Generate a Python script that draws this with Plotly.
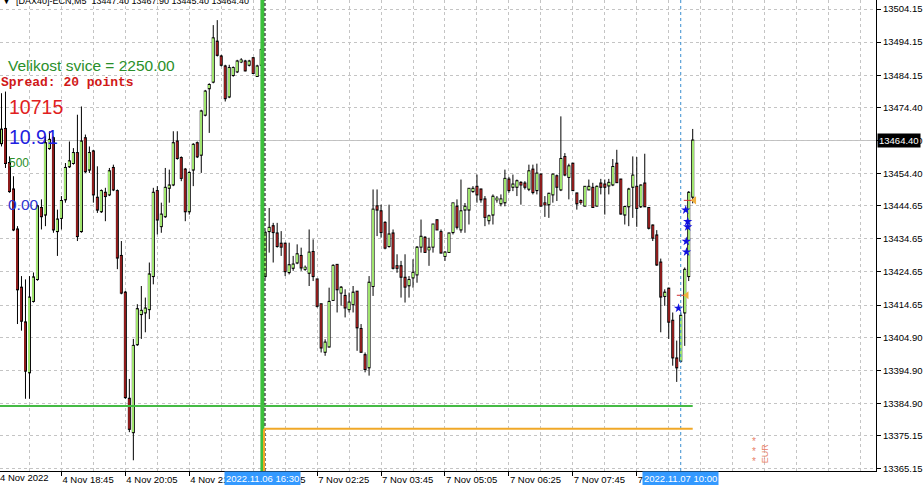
import plotly.graph_objects as go

# ---------------- data ----------------
opens = [13463.6, 13467.9, 13457.6, 13449.6, 13437.5, 13419.9, 13409.4, 13394.3, 13415.9, 13422.5,
         13444.0, 13442.0, 13462.1, 13465.1, 13437.0, 13441.0, 13446.6, 13456.6, 13457.6, 13460.6,
         13437.0, 13465.1, 13455.6, 13461.1, 13447.1, 13443.0, 13448.6, 13448.1, 13456.1, 13449.1,
         13429.5, 13418.4, 13386.3, 13376.2, 13402.8, 13411.9, 13412.4, 13413.4, 13423.4, 13449.1,
         13438.5, 13441.5, 13450.1, 13451.1, 13464.1, 13459.1, 13455.6, 13443.0, 13455.6, 13463.6,
         13460.1, 13472.2, 13480.2, 13482.2, 13494.3, 13489.8, 13486.8, 13477.7, 13484.2, 13485.3,
         13488.3, 13488.3, 13487.3, 13489.3, 13483.9, 13487.3,
         13423.4, 13437.0, 13438.5, 13436.3, 13433.2, 13433.2, 13424.6, 13425.9, 13427.5, 13429.5,
         13425.6, 13424.4, 13430.7, 13422.4, 13414.9, 13400.5, 13402.1, 13416.2, 13426.8, 13418.4,
         13417.4, 13413.4, 13414.9, 13418.7, 13407.4, 13399.5, 13395.8, 13420.4, 13444.5, 13443.0,
         13439.5, 13432.5, 13436.3, 13426.4, 13426.4, 13422.9, 13420.6, 13423.0, 13423.9, 13432.3,
         13435.0, 13431.5, 13432.3, 13440.3, 13436.7, 13429.5, 13430.7, 13436.7, 13444.4, 13437.5,
         13443.5, 13443.5, 13449.1, 13450.4, 13449.6, 13446.6, 13440.3, 13442.0, 13446.6, 13445.4,
         13445.7, 13452.6, 13450.4, 13450.4, 13451.6, 13451.4, 13449.8, 13455.6, 13449.4, 13454.1,
         13445.4, 13445.1, 13448.1, 13453.6, 13449.6, 13459.4, 13453.4, 13457.4, 13448.4, 13446.1,
         13444.7, 13449.6, 13450.1, 13444.7, 13451.4, 13451.1, 13450.8, 13451.1, 13457.4, 13452.6,
         13442.0, 13444.5, 13450.4, 13450.4, 13444.5, 13451.4, 13444.0, 13438.7, 13435.7, 13427.5,
         13417.4, 13419.6, 13409.9, 13398.5, 13397.8, 13412.4, 13423.4, 13447.40]
highs = [13478.7, 13479.2, 13459.6, 13453.6, 13438.5, 13423.4, 13422.4, 13423.4, 13424.5, 13445.0,
         13446.6, 13465.6, 13467.2, 13465.6, 13443.5, 13447.6, 13457.6, 13464.1, 13462.1, 13472.2,
         13474.7, 13466.2, 13462.6, 13461.6, 13456.6, 13449.6, 13450.1, 13456.1, 13457.1, 13449.6,
         13434.0, 13418.9, 13392.3, 13404.4, 13414.9, 13420.4, 13416.9, 13427.5, 13450.1, 13450.6,
         13445.6, 13456.1, 13455.6, 13467.2, 13467.2, 13459.6, 13456.1, 13455.1, 13463.6, 13464.1,
         13473.7, 13479.7, 13481.7, 13499.3, 13500.8, 13490.3, 13487.3, 13487.3, 13486.8, 13488.8,
         13489.3, 13488.8, 13488.8, 13489.6, 13487.3, 13491.9,
         13437.0, 13444.0, 13439.5, 13439.5, 13437.0, 13433.5, 13433.5, 13429.5, 13433.0, 13432.0,
         13426.6, 13437.5, 13434.5, 13422.4, 13414.9, 13404.3, 13419.9, 13427.0, 13427.0, 13420.4,
         13419.4, 13418.4, 13420.4, 13418.7, 13408.9, 13400.3, 13423.4, 13449.6, 13449.6, 13445.0,
         13440.0, 13445.0, 13437.5, 13430.0, 13428.0, 13430.0, 13423.4, 13428.5, 13432.5, 13440.5,
         13435.5, 13435.0, 13439.0, 13440.5, 13437.5, 13431.0, 13436.5, 13445.4, 13446.6, 13452.6,
         13445.5, 13449.8, 13450.6, 13454.1, 13449.8, 13447.6, 13442.0, 13448.1, 13447.6, 13448.1,
         13455.6, 13453.4, 13454.1, 13452.6, 13452.1, 13452.1, 13457.1, 13457.1, 13457.4, 13454.4,
         13447.6, 13448.6, 13454.4, 13454.1, 13471.7, 13460.6, 13457.4, 13457.6, 13448.6, 13446.6,
         13450.6, 13452.6, 13451.6, 13450.8, 13452.8, 13452.6, 13452.8, 13458.8, 13461.6, 13452.8,
         13444.5, 13450.1, 13459.6, 13459.4, 13451.1, 13460.4, 13444.3, 13439.0, 13437.3, 13428.7,
         13419.4, 13419.9, 13412.4, 13403.9, 13412.4, 13426.0, 13449.1, 13467.90]
lows = [13462.6, 13456.1, 13448.6, 13437.0, 13408.9, 13406.9, 13386.3, 13386.3, 13415.4, 13422.0,
        13437.5, 13438.5, 13461.6, 13436.5, 13429.5, 13437.5, 13445.6, 13456.1, 13457.1, 13434.0,
        13436.5, 13454.6, 13454.6, 13445.6, 13442.5, 13442.5, 13440.0, 13447.6, 13449.1, 13425.5,
        13417.9, 13386.3, 13376.2, 13367.7, 13402.3, 13404.4, 13406.4, 13410.4, 13420.9, 13436.0,
        13436.5, 13441.0, 13445.6, 13450.6, 13458.6, 13452.1, 13440.0, 13442.0, 13450.6, 13459.1,
        13454.6, 13471.7, 13466.7, 13481.7, 13489.8, 13486.8, 13476.2, 13477.2, 13483.7, 13484.8,
        13487.8, 13485.3, 13486.8, 13484.6, 13483.7, 13486.9,
        13422.9, 13430.5, 13427.5, 13432.0, 13429.5, 13423.4, 13423.9, 13425.0, 13427.0, 13425.0,
        13425.0, 13420.4, 13421.9, 13413.9, 13400.3, 13399.3, 13401.8, 13415.9, 13412.4, 13414.4,
        13410.9, 13412.4, 13412.4, 13400.8, 13400.3, 13394.3, 13393.3, 13417.4, 13435.5, 13435.0,
        13431.5, 13432.0, 13425.4, 13424.4, 13416.9, 13415.4, 13416.9, 13419.9, 13421.4, 13430.5,
        13430.5, 13426.5, 13430.5, 13437.5, 13430.3, 13428.0, 13430.5, 13436.0, 13437.5, 13436.5,
        13436.5, 13439.0, 13448.6, 13445.6, 13445.6, 13438.5, 13439.0, 13439.0, 13445.6, 13444.5,
        13444.5, 13448.6, 13449.1, 13447.6, 13445.0, 13449.6, 13449.1, 13448.1, 13448.1, 13444.5,
        13441.3, 13441.0, 13445.6, 13446.1, 13449.1, 13453.6, 13446.6, 13449.1, 13443.5, 13445.0,
        13444.5, 13449.4, 13444.0, 13444.5, 13448.1, 13442.0, 13448.1, 13450.6, 13451.6, 13442.0,
        13439.0, 13438.5, 13441.0, 13438.3, 13444.0, 13444.3, 13437.5, 13434.0, 13426.5, 13406.4,
        13414.4, 13404.4, 13396.3, 13391.4, 13397.3, 13402.3, 13421.9, 13445.40]
closes = [13467.7, 13457.6, 13449.1, 13437.5, 13419.4, 13409.9, 13394.8, 13416.9, 13423.0, 13444.5,
          13441.5, 13463.6, 13464.6, 13437.5, 13440.5, 13446.1, 13456.1, 13458.1, 13460.6, 13435.5,
          13464.1, 13455.1, 13460.6, 13448.1, 13443.5, 13449.1, 13447.6, 13455.1, 13449.6, 13429.0,
          13418.4, 13386.8, 13377.2, 13402.3, 13413.4, 13412.9, 13413.6, 13423.9, 13448.6, 13440.5,
          13442.0, 13450.1, 13450.8, 13463.6, 13459.1, 13453.1, 13443.0, 13454.6, 13463.1, 13459.6,
          13473.2, 13479.2, 13481.2, 13495.3, 13490.3, 13487.3, 13477.2, 13486.3, 13486.3, 13488.3,
          13488.6, 13485.6, 13488.3, 13484.8, 13486.8, 13491.8,
          13436.5, 13438.0, 13436.7, 13432.5, 13432.3, 13424.9, 13426.7, 13426.9, 13430.0, 13426.0,
          13425.9, 13430.5, 13423.4, 13414.4, 13401.8, 13403.3, 13415.6, 13426.5, 13419.4, 13419.9,
          13413.9, 13415.4, 13418.4, 13407.9, 13400.5, 13395.3, 13421.4, 13443.5, 13443.5, 13436.7,
          13432.0, 13436.0, 13425.9, 13425.9, 13423.2, 13420.2, 13422.2, 13424.4, 13432.0, 13435.3,
          13430.7, 13432.0, 13439.0, 13437.5, 13430.5, 13430.5, 13436.3, 13445.4, 13438.3, 13443.0,
          13444.4, 13449.8, 13449.8, 13448.1, 13446.6, 13441.3, 13441.5, 13447.4, 13446.8, 13446.6,
          13452.8, 13449.4, 13451.1, 13452.1, 13451.1, 13450.4, 13455.1, 13448.8, 13454.4, 13444.7,
          13445.1, 13448.3, 13454.1, 13450.4, 13458.8, 13454.1, 13456.6, 13449.4, 13445.4, 13445.8,
          13450.4, 13450.4, 13444.3, 13450.4, 13450.4, 13450.4, 13451.6, 13456.4, 13451.8, 13442.3,
          13444.3, 13449.6, 13453.8, 13444.0, 13450.8, 13444.5, 13438.0, 13435.0, 13426.9, 13417.2,
          13418.4, 13409.6, 13398.8, 13395.8, 13411.4, 13425.3, 13448.6, 13464.40]
bar_index = list(range(len(opens)))

x_tick_idx = [15, 31, 47, 63, 79, 95, 111, 127, 143, 159]
x_tick_text = ["4 Nov 18:45", "4 Nov 20:05", "4 Nov 21:25", "4 Nov 22:45", "7 Nov 02:25",
               "7 Nov 03:45", "7 Nov 05:05", "7 Nov 06:25", "7 Nov 07:45", "7 Nov 09:05"]
first_date_label = "4 Nov 2022"

y_tick_vals = [13504.15, 13494.15, 13484.15, 13474.40, 13464.40, 13454.40, 13444.65, 13434.65,
               13424.65, 13414.65, 13404.90, 13394.90, 13384.90, 13375.15, 13365.15]
y_tick_text = [f"{v:.2f}" for v in y_tick_vals]

current_price = 13464.40
green_level = 13384.15
orange_level = 13377.20
separator_idx = 65.3          # 2022.11.06 16:30 line
separator_label = "2022.11.06 16:30"
event_idx = 170               # 2022.11.07 10:00 line
event_label = "2022.11.07 10:00"
level_end_idx = 173

star_idx = [169.45, 171.25, 171.75, 171.75, 171.4, 171.45]
star_price = [13413.7, 13443.4, 13439.9, 13438.3, 13433.9, 13430.7]
order_idx = [171.5, 173.4]
order_price = [13417.6, 13446.3]
dash_idx = [170.25, 172.0]

# ---------------- figure ----------------
PLOT_W, PLOT_H = 877, 473
X_RANGE = [-0.375, 218.875]
Y_RANGE = [13364.46, 13506.89]
GRID = "#c4c4c4"
UP_FILL, DOWN_FILL = "#a0e46e", "#8c1c1c"
OUTER_W, INNER_W = 0.75, 0.25   # 3 px black body, 1 px coloured core
EDGE = 0.3                      # ~1 px black border above/below the coloured core

fig = go.Figure()

# wicks (only outside the body)
wick_x, wick_y = [], []
for i, o, h, l, c in zip(bar_index, opens, highs, lows, closes):
    lo, hi = min(o, c), max(o, c)
    if l < lo:
        wick_x += [i, i, None]
        wick_y += [l, lo, None]
    if h > hi:
        wick_x += [i, i, None]
        wick_y += [hi, h, None]
fig.add_trace(go.Scatter(x=wick_x, y=wick_y, mode="lines", line=dict(color="black", width=1),
                         hoverinfo="skip", showlegend=False))

# black body outline (drawn as a slightly larger black bar)
out_base = [min(o, c) - EDGE for o, c in zip(opens, closes)]
out_h = [abs(c - o) + 2 * EDGE for o, c in zip(opens, closes)]
fig.add_trace(go.Bar(x=bar_index, y=out_h, base=out_base, width=OUTER_W,
                     marker=dict(color="black", line=dict(width=0)),
                     hoverinfo="skip", showlegend=False))

# coloured body core
for want_up, fill in ((True, UP_FILL), (False, DOWN_FILL)):
    xs, bases, heights = [], [], []
    for i, o, c in zip(bar_index, opens, closes):
        if (c >= o) == want_up and c != o:
            xs.append(i)
            bases.append(min(o, c))
            heights.append(abs(c - o))
    fig.add_trace(go.Bar(x=xs, y=heights, base=bases, width=INNER_W,
                         marker=dict(color=fill, line=dict(width=0)),
                         hoverinfo="skip", showlegend=False))

fig.add_trace(go.Scatter(x=star_idx, y=star_price, mode="markers", hoverinfo="skip",
                         marker=dict(symbol="star", size=7, color="#1010e0", line=dict(width=0)),
                         showlegend=False))
fig.add_trace(go.Scatter(x=dash_idx, y=order_price, mode="markers", hoverinfo="skip",
                         marker=dict(symbol="line-ew", size=7, line=dict(color="#d03030", width=1)),
                         showlegend=False))
fig.add_trace(go.Scatter(x=order_idx, y=order_price, mode="markers", hoverinfo="skip",
                         marker=dict(symbol="triangle-left", size=7, color="#f0b040"),
                         showlegend=False))

shapes = [
    dict(type="line", xref="paper", x0=0, x1=1, yref="y", y0=current_price, y1=current_price,
         line=dict(color="#c0c0c0", width=1), layer="below"),
    dict(type="line", xref="x", x0=separator_idx, x1=separator_idx, yref="paper", y0=0, y1=1,
         line=dict(color="#3cc03c", width=4), layer="above"),
    dict(type="line", xref="x", x0=separator_idx + 0.65, x1=separator_idx + 0.65, yref="paper", y0=0, y1=1,
         line=dict(color="black", width=1, dash="3px,2px"), layer="above"),
    dict(type="line", xref="x", x0=event_idx, x1=event_idx, yref="paper", y0=0, y1=1,
         line=dict(color="#3a8fd0", width=1, dash="3px,3px"), layer="above"),
    dict(type="line", xref="x", x0=X_RANGE[0], x1=level_end_idx, yref="y", y0=green_level, y1=green_level,
         line=dict(color="#45bb45", width=2), layer="above"),
    dict(type="line", xref="x", x0=separator_idx + 0.4, x1=level_end_idx, yref="y", y0=orange_level, y1=orange_level,
         line=dict(color="#f0a828", width=2), layer="above"),
    dict(type="line", xref="x", x0=separator_idx + 0.4, x1=separator_idx + 0.4, yref="y", y0=orange_level, y1=Y_RANGE[0],
         line=dict(color="#f0a828", width=2), layer="above"),
]

anns = []


def px_ann(text, px, py, size, color, family="Liberation Sans", xanchor="left", yanchor="middle", **kw):
    anns.append(dict(text=text, xref="paper", yref="paper", x=px / PLOT_W, y=1 - py / PLOT_H,
                     xanchor=xanchor, yanchor=yanchor, showarrow=False,
                     font=dict(size=size, color=color, family=family), **kw))


title = ("\u25bc\u00a0\u00a0[DAX40]-ECN,M5\u00a0\u00a0"
         f"{opens[-1]:.2f} {highs[-1]:.2f} {lows[-1]:.2f} {closes[-1]:.2f}")
px_ann(title, 0, 1.5, 9, "black")
px_ann("Velikost svice = 2250.00", 6, 66, 15.5, "#2a8f2a")
px_ann("<b>Spread: 20 points</b>", -1, 83, 13, "#d01818", family="Liberation Mono")
px_ann("10715", 7, 107.5, 19.5, "#e02020")
px_ann("10.91", 7, 137.5, 19.5, "#2020e0")
px_ann("500", 7, 164, 12, "#2a8f2a")
px_ann("0.00", 6, 205, 15.5, "#2b35d0")
for yy in (443, 453, 463):
    px_ann("*", 755, yy, 10, "#e8826a", xanchor="center")
px_ann("EUR", 766, 455, 9, "#e8826a", xanchor="center", textangle=-90)
px_ann(first_date_label, -2, 479.5, 9.5, "black")

# highlighted labels on the time axis and price box
anns.append(dict(text=separator_label, xref="x", x=separator_idx, yref="paper", y=0, yshift=-7,
                 xanchor="center", yanchor="middle", showarrow=False, bgcolor="#3399ff",
                 font=dict(size=9.5, color="white", family="Liberation Sans"), borderpad=1))
anns.append(dict(text=event_label, xref="x", x=event_idx, yref="paper", y=0, yshift=-7,
                 xanchor="center", yanchor="middle", showarrow=False, bgcolor="#3399ff",
                 font=dict(size=9.5, color="white", family="Liberation Sans"), borderpad=1))
anns.append(dict(text=f"{current_price:.2f}", xref="paper", x=1, xshift=1, yref="y", y=current_price,
                 xanchor="left", yanchor="middle", showarrow=False, bgcolor="black",
                 font=dict(size=9.5, color="white", family="Liberation Sans"), borderpad=1))

fig.update_layout(
    width=923, height=485,
    margin=dict(l=0, r=923 - PLOT_W, t=0, b=485 - PLOT_H, pad=0),
    paper_bgcolor="white", plot_bgcolor="white",
    showlegend=False, shapes=shapes, annotations=anns,
    barmode="overlay", bargap=0.1, bargroupgap=0, hovermode=False,
    font=dict(family="Liberation Sans", size=9.5, color="black"),
)
fig.update_xaxes(
    type="linear", range=X_RANGE,
    tickmode="array", tickvals=x_tick_idx, ticktext=x_tick_text,
    ticks="outside", ticklen=4, tickcolor="black", ticklabelposition="outside right",
    showline=True, linecolor="black", linewidth=1, zeroline=False,
    showgrid=True, gridcolor=GRID, griddash="3px,3px", gridwidth=1,
    minor=dict(tickmode="array", tickvals=list(range(7, 219, 8)), showgrid=True,
               gridcolor=GRID, griddash="3px,3px", ticks=""),
    tickfont=dict(size=9.5, family="Liberation Sans"), fixedrange=True,
)
fig.update_yaxes(
    side="right", range=Y_RANGE, tickmode="array", tickvals=y_tick_vals, ticktext=y_tick_text,
    ticks="outside", ticklen=4, tickcolor="black",
    showline=True, linecolor="black", linewidth=1, zeroline=False,
    showgrid=True, gridcolor=GRID, griddash="3px,3px", gridwidth=1,
    tickfont=dict(size=9.5, family="Liberation Sans"), fixedrange=True,
)

fig.write_html("out.html", config={"displayModeBar": False},
               post_script="document.body.style.margin='0';document.body.style.overflow='hidden';")
